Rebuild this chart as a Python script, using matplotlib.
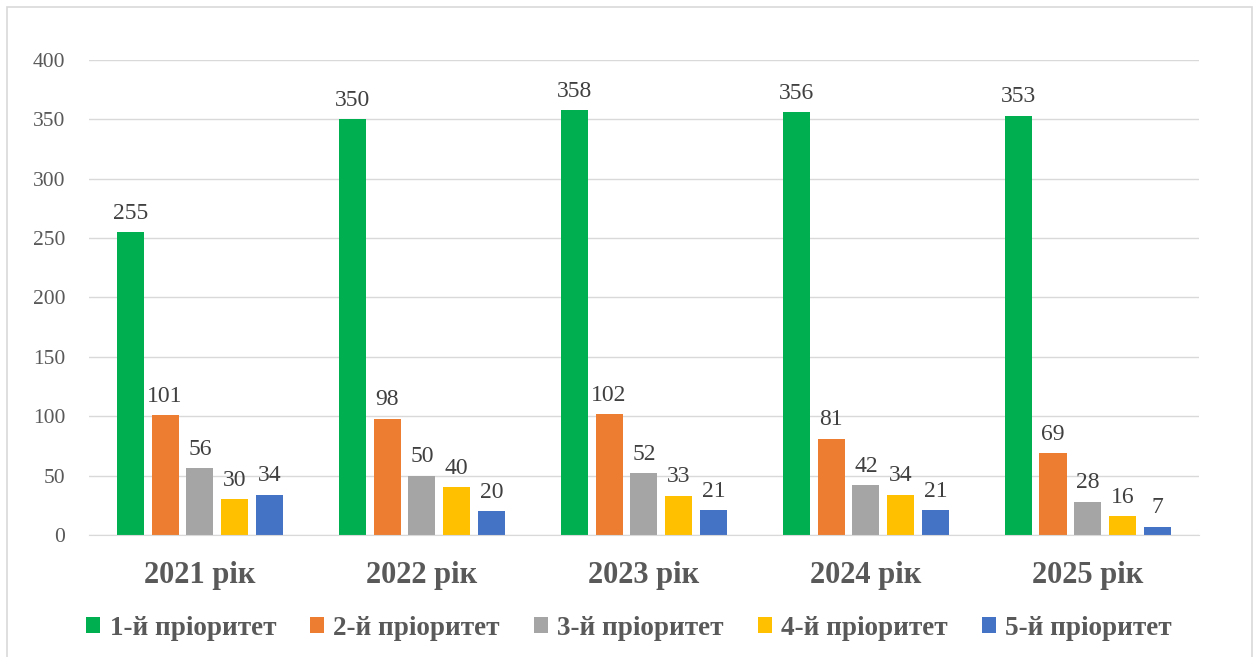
import numpy as np
import matplotlib.pyplot as plt
from matplotlib.patches import Rectangle

years = ["2021 рік", "2022 рік", "2023 рік", "2024 рік", "2025 рік"]
series_names = ["1-й пріоритет", "2-й пріоритет", "3-й пріоритет",
                "4-й пріоритет", "5-й пріоритет"]
p1 = [255, 350, 358, 356, 353]
p2 = [101, 98, 102, 81, 69]
p3 = [56, 50, 52, 42, 28]
p4 = [30, 40, 33, 34, 16]
p5 = [34, 20, 21, 21, 7]
colors = ["#00B050", "#ED7D31", "#A5A5A5", "#FFC000", "#4472C4"]

plt.rcParams['font.family'] = ['Liberation Serif', 'DejaVu Serif']

fig = plt.figure(figsize=(12.58, 6.57), dpi=100)
ax = fig.add_axes([0.0707, 0.1857, 0.8823, 0.723])

# light frame around the whole chart
fig.patches.append(Rectangle((0.0056, -0.01), 0.9897, 1.0, transform=fig.transFigure,
                             fill=False, edgecolor="#D9D9D9", linewidth=1.2))

x = np.arange(len(years))
step = 0.157
width = 0.122
for i, (vals, name, c) in enumerate(zip([p1, p2, p3, p4, p5], series_names, colors)):
    bars = ax.bar(x + (i - 2) * step, vals, width, color=c, label=name)
    ax.bar_label(bars, padding=6, fontsize=17, color="#404040")

ax.set_xlim(-0.5, len(years) - 0.5)
ax.set_ylim(0, 400)
ax.set_yticks(range(0, 401, 50))
ax.yaxis.grid(True, color="#D9D9D9", linewidth=1)
ax.set_axisbelow(True)

for s in ["top", "right", "left"]:
    ax.spines[s].set_visible(False)
ax.spines["bottom"].set_color("#D9D9D9")

ax.set_xticks(x)
ax.set_xticklabels(years, fontsize=22, fontweight="bold", color="#595959")
ax.tick_params(axis="x", length=0, pad=19)
ax.tick_params(axis="y", length=0, pad=17, labelsize=15.5, labelcolor="#595959")

leg = fig.legend(loc="center", bbox_to_anchor=(0.5, 0.044), ncol=5, frameon=False,
                 prop={"size": 19.5, "weight": "bold"}, handlelength=0.52, handleheight=0.52,
                 handletextpad=0.35, columnspacing=1.25)
for t in leg.get_texts():
    t.set_color("#595959")

plt.savefig("out.png", dpi=100)
